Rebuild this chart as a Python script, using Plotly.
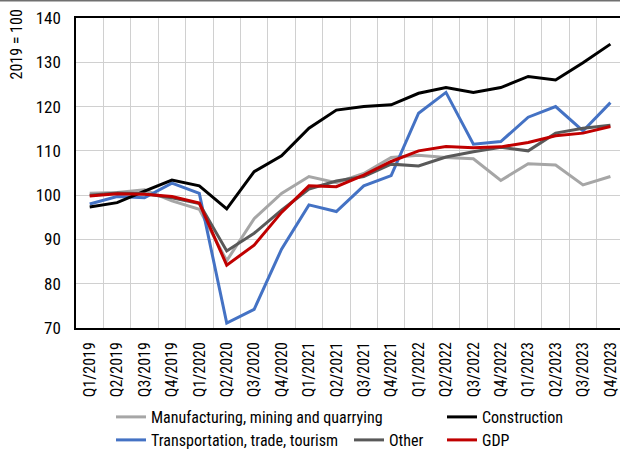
import plotly.graph_objects as go

quarters = ["Q1/2019", "Q2/2019", "Q3/2019", "Q4/2019",
            "Q1/2020", "Q2/2020", "Q3/2020", "Q4/2020",
            "Q1/2021", "Q2/2021", "Q3/2021", "Q4/2021",
            "Q1/2022", "Q2/2022", "Q3/2022", "Q4/2022",
            "Q1/2023", "Q2/2023", "Q3/2023", "Q4/2023"]

manufacturing = [100.4, 100.6, 101.2, 98.7, 96.8, 85.2, 94.7, 100.4, 104.2, 102.8,
                 104.9, 108.5, 109.0, 108.5, 108.2, 103.3, 107.1, 106.8, 102.3, 104.2]
transportation = [98.0, 99.7, 99.4, 102.7, 100.4, 71.1, 74.2, 87.8, 97.8, 96.3,
                  102.1, 104.4, 118.5, 123.2, 111.5, 112.1, 117.6, 120.0, 114.5, 120.9]
construction = [97.3, 98.3, 100.9, 103.4, 102.1, 96.9, 105.3, 108.9, 115.1, 119.2,
                120.0, 120.4, 123.0, 124.3, 123.2, 124.3, 126.8, 126.0, 129.9, 134.1]
other = [100.0, 100.5, 100.3, 99.4, 98.1, 87.4, 91.4, 96.6, 101.4, 103.2,
         104.2, 107.0, 106.6, 108.6, 109.8, 110.8, 110.0, 114.0, 115.1, 115.8]
gdp = [99.8, 100.3, 100.2, 99.7, 98.2, 84.2, 88.7, 96.1, 102.1, 101.9,
       104.5, 107.6, 110.0, 111.0, 110.7, 110.9, 111.9, 113.4, 114.0, 115.5]

FONT = "Roboto Condensed, DejaVu Sans Condensed, sans-serif"
FS = 16

series = [
    ("Manufacturing, mining and quarrying", manufacturing, "#a6a6a6", "legend", 150, 417),
    ("Transportation, trade, tourism", transportation, "#4472c4", "legend2", 150, 440),
    ("Construction", construction, "#000000", "legend3", 481, 417),
    ("Other", other, "#595959", "legend4", 388, 440),
    ("GDP", gdp, "#c00000", "legend5", 481, 440),
]

fig = go.Figure()
W, H = 620, 450
L, T, B = 76, 18, 122
PH = H - T - B
layout_legends = {}
for name, vals, color, lg, tx, ty in series:
    fig.add_trace(go.Scatter(x=quarters, y=vals, name=name, mode="lines",
                             line=dict(color=color, width=3), legend=lg))
    layout_legends[lg] = dict(
        xref="container", yref="container",
        x=(tx - 39) / W, y=1 - ty / H, xanchor="left", yanchor="middle",
        orientation="h", font=dict(family=FONT, size=FS, color="#000000"),
        bgcolor="rgba(0,0,0,0)", borderwidth=0,
    )

fig.update_layout(
    width=W, height=H,
    margin=dict(l=L, r=0, t=T, b=B, autoexpand=False),
    plot_bgcolor="white", paper_bgcolor="white",
    font=dict(family=FONT, size=FS, color="#000000"),
    xaxis=dict(
        type="category", range=[-0.5, 19.35], tickson="boundaries", automargin=False,
        showgrid=True, gridcolor="#d0d0d0", gridwidth=1,
        showline=True, linecolor="#000000", linewidth=1.5, mirror=True,
        ticks="", tickangle=-90, ticklabelstandoff=6,
        tickfont=dict(family=FONT, size=FS),
    ),
    yaxis=dict(
        range=[70, 140], dtick=10, showgrid=True, gridcolor="#d0d0d0", gridwidth=1,
        showline=True, linecolor="#000000", linewidth=1.5, automargin=False,
        ticks="", ticklabelstandoff=10, zeroline=False,
        tickfont=dict(family=FONT, size=17),
    ),
    annotations=[dict(
        text="2019 = 100", xref="paper", yref="paper",
        x=0, xanchor="right", xshift=-49, y=1 + (T - 13) / PH, yanchor="top",
        yshift=5, textangle=-90, showarrow=False, font=dict(family=FONT, size=16),
    )],
    shapes=[dict(type="line", xref="paper", yref="paper", x0=-0.2, x1=1.0,
                 y0=1 + (T - 0.5) / PH, y1=1 + (T - 0.5) / PH,
                 line=dict(color="#707070", width=2))],
    showlegend=True,
    **layout_legends,
)

fig.write_html("out.html", post_script="document.body.style.margin='0';",
               config={"displayModeBar": False})
